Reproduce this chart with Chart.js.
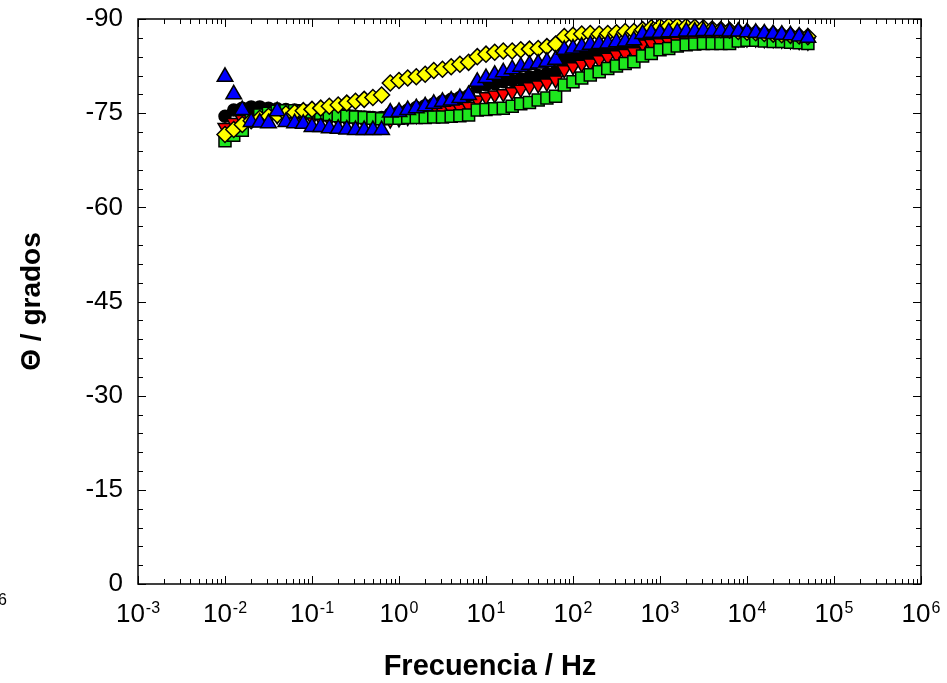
<!DOCTYPE html>
<html>
<head>
<meta charset="utf-8">
<script src="https://cdn.jsdelivr.net/npm/chart.js@4.4.0/dist/chart.umd.min.js"></script>
<style>
  html, body { margin: 0; padding: 0; background: #fff; }
  #wrap { width: 947px; height: 683px; position: relative; }
</style>
</head>
<body>
<div id="wrap"><canvas id="chart"></canvas></div>
<script>
// frequencies (Hz)
const freq = [
    0.01, 0.0126, 0.0158, 0.02, 0.0251, 0.0316, 0.0398, 0.0501, 0.0631, 0.0794,
    0.1, 0.126, 0.158, 0.2, 0.251, 0.316, 0.398, 0.501, 0.631, 0.794,
    1, 1.26, 1.58, 2, 2.51, 3.16, 3.98, 5.01, 6.31, 7.94,
    10, 12.6, 15.8, 20, 25.1, 31.6, 39.8, 50.1, 63.1, 79.4,
    100, 126, 158, 200, 251, 316, 398, 501, 631, 794,
    1000, 1260, 1580, 2000, 2510, 3160, 3980, 5010, 6310, 7940,
    10000, 12600, 15800, 20000, 25100, 31600, 39800, 50100
];

// phase angle (degrees) per series
const blackCircles = [
    -74.5, -75.5, -75.8, -76.0, -76.0, -75.8, -75.7, -75.6, -75.5, -75.4, -75.3, -75.1, -75.0, -74.8, -74.7, -74.5, -74.4, -74.3, -74.3,
    -74.9, -75.2, -75.5, -75.9, -76.2, -76.5, -76.9, -77.2, -77.5, -77.8,
    -79.2, -79.5, -79.7, -80.0, -80.2, -80.5, -80.8, -81.0, -81.3, -81.6,
    -83.6, -83.9, -84.2, -84.5, -84.8, -85.1, -85.3, -85.5, -85.7, -86.3,
    -86.6, -86.8, -87.0, -87.1, -87.2, -87.3, -87.3, -87.3, -87.3, -87.2,
    -87.2, -87.1, -87.0, -87.0, -86.9, -86.8, -86.7, -86.6, -86.5
];
const redTriangles = [
    -72.7, -73.5, -74.0, -74.3, -74.5, -74.6, -74.6, -74.5, -74.4, -74.3, -74.2, -74.1, -74.0, -73.9, -73.8, -73.7, -73.6, -73.5, -73.5,
    -73.9, -74.1, -74.3, -74.6, -74.8, -75.1, -75.4, -75.6, -75.8, -76.1,
    -77.1, -77.6, -77.9, -78.1, -78.4, -78.8, -79.2, -79.5, -79.8, -80.3,
    -81.9, -82.4, -82.8, -83.0, -83.5, -83.9, -84.3, -84.5, -84.8, -86.0,
    -86.1, -86.2, -86.3, -86.4, -86.5, -86.6, -86.7, -86.7, -86.8, -86.8,
    -86.8, -86.8, -86.8, -86.7, -86.7, -86.6, -86.5, -86.4, -86.3
];
const greenSquares = [
    -70.6, -71.5, -72.3, -73.9, -74.7, -75.0, -75.3, -75.4, -75.4, -75.3, -75.2, -75.0, -74.8, -74.6, -74.5, -74.4, -74.3, -74.2, -74.1,
    -74.2, -74.2, -74.3, -74.3, -74.3, -74.4, -74.4, -74.5, -74.6, -74.7,
    -75.5, -75.6, -75.7, -75.8, -76.1, -76.5, -76.7, -77.1, -77.4, -77.7,
    -79.5, -80.0, -80.6, -81.1, -81.6, -82.1, -82.5, -82.9, -83.2, -84.1,
    -84.5, -85.1, -85.3, -85.7, -85.9, -86.0, -86.1, -86.1, -86.1, -86.1,
    -86.5, -86.6, -86.6, -86.5, -86.4, -86.4, -86.3, -86.2, -86.1
];
const blueTriangles = [
    -80.8, -78.0, -75.5, -73.6, -73.5, -73.4, -75.3, -73.6, -73.4, -73.3, -72.8, -72.8, -72.6, -72.5, -72.4, -72.3, -72.3, -72.3, -72.3,
    -75.1, -75.2, -75.5, -75.8, -76.1, -76.5, -76.8, -77.0, -77.4, -77.9,
    -80.0, -80.6, -81.1, -81.5, -82.0, -82.4, -82.7, -82.9, -83.2, -83.5,
    -85.1, -85.3, -85.6, -85.9, -86.0, -86.1, -86.3, -86.4, -86.6, -87.6,
    -87.8, -87.8, -87.9, -87.9, -88.0, -88.0, -88.1, -88.1, -88.1, -88.0,
    -88.0, -87.9, -87.8, -87.7, -87.6, -87.5, -87.4, -87.2, -87.0
];
const yellowDiamonds = [
    -71.6, -72.4, -73.2, -73.8, -74.2, -74.5, -74.7, -74.9, -75.1, -75.4, -75.6, -75.8, -76.1, -76.3, -76.6, -76.9, -77.2, -77.5, -77.9,
    -79.8, -80.2, -80.6, -80.8, -81.2, -81.8, -82.0, -82.4, -82.8, -83.1,
    -84.0, -84.4, -84.7, -84.9, -84.9, -85.1, -85.2, -85.3, -85.6, -86.0,
    -87.2, -87.4, -87.6, -87.7, -87.6, -87.7, -87.8, -88.0, -88.0, -88.3,
    -88.6, -88.8, -88.9, -88.9, -88.8, -88.7, -88.6, -88.4, -88.3, -88.2,
    -88.0, -87.9, -87.8, -87.7, -87.6, -87.5, -87.4, -87.3, -87.2
];

// axis ticks
const xDecades = [1e-3, 1e-2, 1e-1, 1, 10, 100, 1e3, 1e4, 1e5, 1e6];
const xExponents = ["-3", "-2", "-1", "0", "1", "2", "3", "4", "5", "6"];

const FONT = '"Liberation Sans", Arial, Helvetica, sans-serif';

function pts(ys) {
    return freq.map((f, i) => ({ x: f, y: ys[i] }));
}

function series(label, ys, color, style, radius, rotation) {
    return {
        label: label,
        data: pts(ys),
        showLine: false,
        pointStyle: style,
        pointRadius: radius,
        pointRotation: rotation || 0,
        pointBackgroundColor: color,
        pointBorderColor: "#000",
        pointBorderWidth: 1.5,
        backgroundColor: color,
        borderColor: "#000"
    };
}

// frame, inward ticks, power-of-ten labels and the x title
const frame = {
    id: "frame",
    afterDraw(chart) {
        const { ctx, chartArea: a, scales: { x, y } } = chart;
        ctx.save();
        ctx.strokeStyle = "#000";
        ctx.lineWidth = 1;
        ctx.beginPath();
        for (let d = 0; d < xDecades.length; d++) {
            for (let m = 1; m <= 9; m++) {
                if (d === xDecades.length - 1 && m > 1) break;
                const px = Math.round(x.getPixelForValue(xDecades[d] * m)) + 0.5;
                const len = m === 1 ? 8 : 5;
                ctx.moveTo(px, a.bottom); ctx.lineTo(px, a.bottom - len);
                ctx.moveTo(px, a.top); ctx.lineTo(px, a.top + len);
            }
        }
        for (let v = -90; v <= 0; v += 3) {
            const py = Math.round(y.getPixelForValue(v)) + 0.5;
            const len = v % 15 === 0 ? 8 : 5;
            ctx.moveTo(a.left, py); ctx.lineTo(a.left + len, py);
            ctx.moveTo(a.right, py); ctx.lineTo(a.right - len, py);
        }
        ctx.stroke();

        ctx.lineWidth = 1.5;
        ctx.strokeRect(a.left, a.top, a.right - a.left, a.bottom - a.top);

        ctx.fillStyle = "#000";
        ctx.textAlign = "left";
        ctx.textBaseline = "alphabetic";
        xDecades.forEach((v, i) => {
            const px = x.getPixelForValue(v);
            ctx.font = "26px " + FONT;
            const wb = ctx.measureText("10").width;
            ctx.font = "16px " + FONT;
            const we = ctx.measureText(xExponents[i]).width;
            const x0 = px - (wb + we + 1) / 2;
            ctx.font = "26px " + FONT;
            ctx.fillText("10", x0, 622);
            ctx.font = "16px " + FONT;
            ctx.fillText(xExponents[i], x0 + wb + 1, 613);
        });

        ctx.font = "bold 29px " + FONT;
        ctx.textAlign = "center";
        ctx.fillText("Frecuencia / Hz", 490, 675);

        // stray exponent cut at the left edge of the picture
        ctx.font = "16px " + FONT;
        ctx.textAlign = "right";
        ctx.fillText("6", 7, 605);
        ctx.restore();
    }
};

new Chart(document.getElementById("chart"), {
    type: "scatter",
    data: {
        datasets: [
            series("Azul", blueTriangles, "#0000ff", "triangle", 9),
            series("Amarillo", yellowDiamonds, "#ffff00", "rectRot", 8),
            series("Verde", greenSquares, "#1ee61e", "rect", 8.5),
            series("Rojo", redTriangles, "#ff0000", "triangle", 8, 180),
            series("Negro", blackCircles, "#000000", "circle", 6)
        ]
    },
    options: {
        responsive: true,
        maintainAspectRatio: false,
        animation: false,
        layout: {
            padding: { top: 19, right: 26, left: 0, bottom: 0 }
        },
        plugins: {
            legend: { display: false },
            tooltip: { enabled: false }
        },
        scales: {
            x: {
                type: "logarithmic",
                min: 1e-3,
                max: 1e6,
                grid: { display: false, drawTicks: false },
                border: { display: false },
                ticks: { display: false },
                afterFit: function(scale) {
                    scale.height = 99;
                }
            },
            y: {
                type: "linear",
                min: -90,
                max: 0,
                reverse: true,
                grid: { display: false, drawTicks: false },
                border: { display: false },
                ticks: {
                    stepSize: 15,
                    padding: 15,
                    color: "#000",
                    font: { family: FONT, size: 26 }
                },
                title: {
                    display: true,
                    text: "Θ / grados",
                    color: "#000",
                    padding: { top: 15, bottom: 0 },
                    font: { family: FONT, size: 28, weight: "bold" }
                },
                afterFit: function(scale) {
                    scale.width = 138;
                    scale.paddingTop = 0;
                    scale.paddingBottom = 0;
                }
            }
        }
    },
    plugins: [frame]
});
</script>
</body>
</html>
